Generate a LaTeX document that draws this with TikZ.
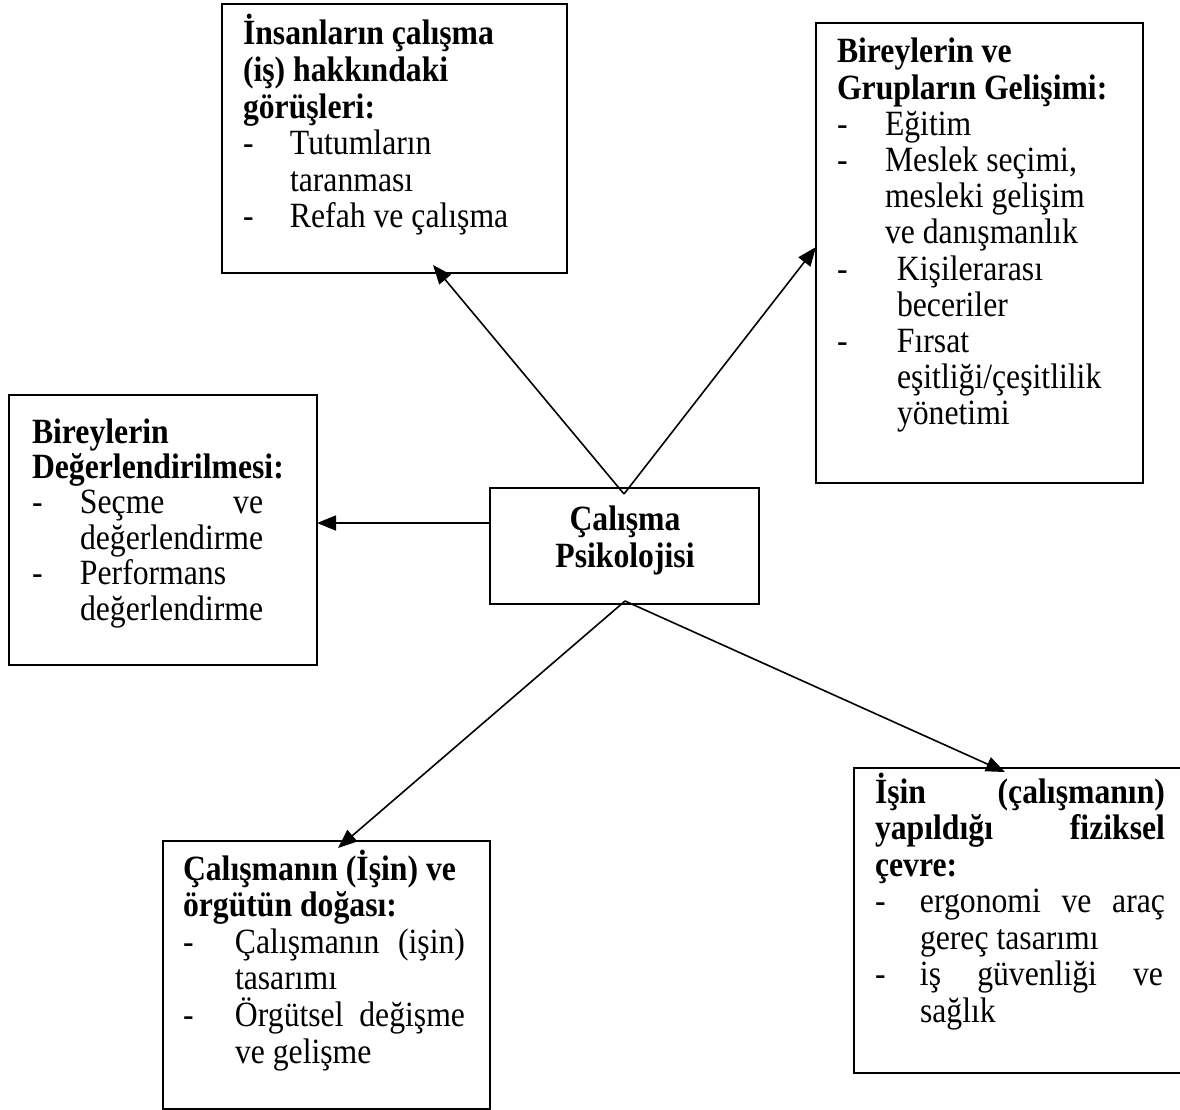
\documentclass[tikz,border=0pt]{standalone}
\usepackage{fontspec}
\setmainfont{Liberation Serif}[FakeStretch=0.893]
\usetikzlibrary{arrows.meta}
\newlength\jw
\newcommand\bodyfont[1]{\fontsize{35.5}{#1}\selectfont}
\tikzset{
  boxr/.style={draw, line width=1.8pt, inner sep=0pt, outer sep=0pt},
  txt/.style={inner sep=0pt, outer sep=0pt, anchor=base west},
  conn/.style={line width=1.6pt, -{Triangle[length=19pt,width=15pt]}},
}
\begin{document}
\begin{tikzpicture}[x=1pt,y=-1pt]
\clip (0,0) rectangle (1180,1110);
\fill[white] (0,0) rectangle (1180,1110);

% boxes
\node[boxr, minimum width=345pt, minimum height=269pt] (boxA) at (394.5,138.5) {};
\node[boxr, minimum width=327pt, minimum height=460pt] (boxB) at (979.5,253) {};
\node[boxr, minimum width=308pt, minimum height=270pt] (boxC) at (163,530) {};
\node[boxr, minimum width=269pt, minimum height=116pt] (boxD) at (624.5,546) {};
\node[boxr, minimum width=327pt, minimum height=268pt] (boxE) at (326.5,975) {};
\node[boxr, minimum width=366pt, minimum height=305pt] (boxF) at (1037,920.5) {};

% texts
\node[txt] (txA) at (243,45) {\parbox[t]{330pt}{\bodyfont{36.6}\raggedright\noindent
\textbf{İnsanların çalışma}\\
\textbf{(iş) hakkındaki}\\
\textbf{görüşleri:}\\
\makebox[47pt][l]{-}Tutumların\\
\hspace*{47pt}taranması\\
\makebox[47pt][l]{-}Refah ve çalışma}};

\node[txt] (txB) at (837,63) {\parbox[t]{310pt}{\bodyfont{36.2}\raggedright\noindent
\textbf{Bireylerin ve}\\
\textbf{Grupların Gelişimi:}\\
\makebox[48pt][l]{-}Eğitim\\
\makebox[48pt][l]{-}Meslek seçimi,\\
\hspace*{48pt}mesleki gelişim\\
\hspace*{48pt}ve danışmanlık\\
\makebox[60pt][l]{-}Kişilerarası\\
\hspace*{60pt}beceriler\\
\makebox[60pt][l]{-}Fırsat\\
\hspace*{60pt}eşitliği/çeşitlilik\\
\hspace*{60pt}yönetimi}};

\node[txt] (txC) at (32,443) {\parbox[t]{280pt}{\bodyfont{35.4}\raggedright
\settowidth\jw{değerlendirme}\noindent
\textbf{Bireylerin}\\
\textbf{Değerlendirilmesi:}\\
\makebox[48pt][l]{-}\hbox to\jw{Seçme\hfill ve}\\
\hspace*{48pt}değerlendirme\\
\makebox[48pt][l]{-}Performans\\
\hspace*{48pt}değerlendirme}};

\node[inner sep=0pt, anchor=base] (txD) at (625,530) {\parbox[t]{260pt}{\bodyfont{37}\centering\bfseries
Çalışma\\
Psikolojisi}};

\node[txt] (txE) at (183,880) {\parbox[t]{300pt}{\bodyfont{36.6}\raggedright\noindent
\textbf{Çalışmanın (İşin) ve}\\
\textbf{örgütün doğası:}\\
\makebox[52pt][l]{-}\hbox to 230pt{Çalışmanın\hfill(işin)}\\
\hspace*{52pt}tasarımı\\
\makebox[52pt][l]{-}\hbox to 230pt{Örgütsel\hfill değişme}\\
\hspace*{52pt}ve gelişme}};

\node[txt] (txF) at (875,803) {\parbox[t]{300pt}{\bodyfont{36.5}\raggedright\noindent
\leavevmode\hbox to 290pt{\bfseries İşin\hfill(çalışmanın)}\\
\leavevmode\hbox to 290pt{\bfseries yapıldığı\hfill fiziksel}\\
\textbf{çevre:}\\
\makebox[45pt][l]{-}\hbox to 245pt{ergonomi\hfill ve\hfill araç}\\
\hspace*{45pt}gereç tasarımı\\
\makebox[45pt][l]{-}\hbox to 243pt{iş\hfill güvenliği\hfill ve}\\
\hspace*{45pt}sağlık}};

% connector ends
\coordinate (oTop) at (624,494);
\coordinate (oBot) at (625,601);
\coordinate (sC) at (490,523);
\coordinate (tA) at (433,265);
\coordinate (tB) at (816,247);
\coordinate (tC) at (317,523);
\coordinate (tE) at (338,848);
\coordinate (tF) at (1005,772);

\draw[conn] (oTop) -- (tA);
\draw[conn] (oTop) -- (tB);
\draw[conn] (sC) -- (tC);
\draw[conn] (oBot) -- (tE);
\draw[conn] (oBot) -- (tF);
\end{tikzpicture}
\end{document}
